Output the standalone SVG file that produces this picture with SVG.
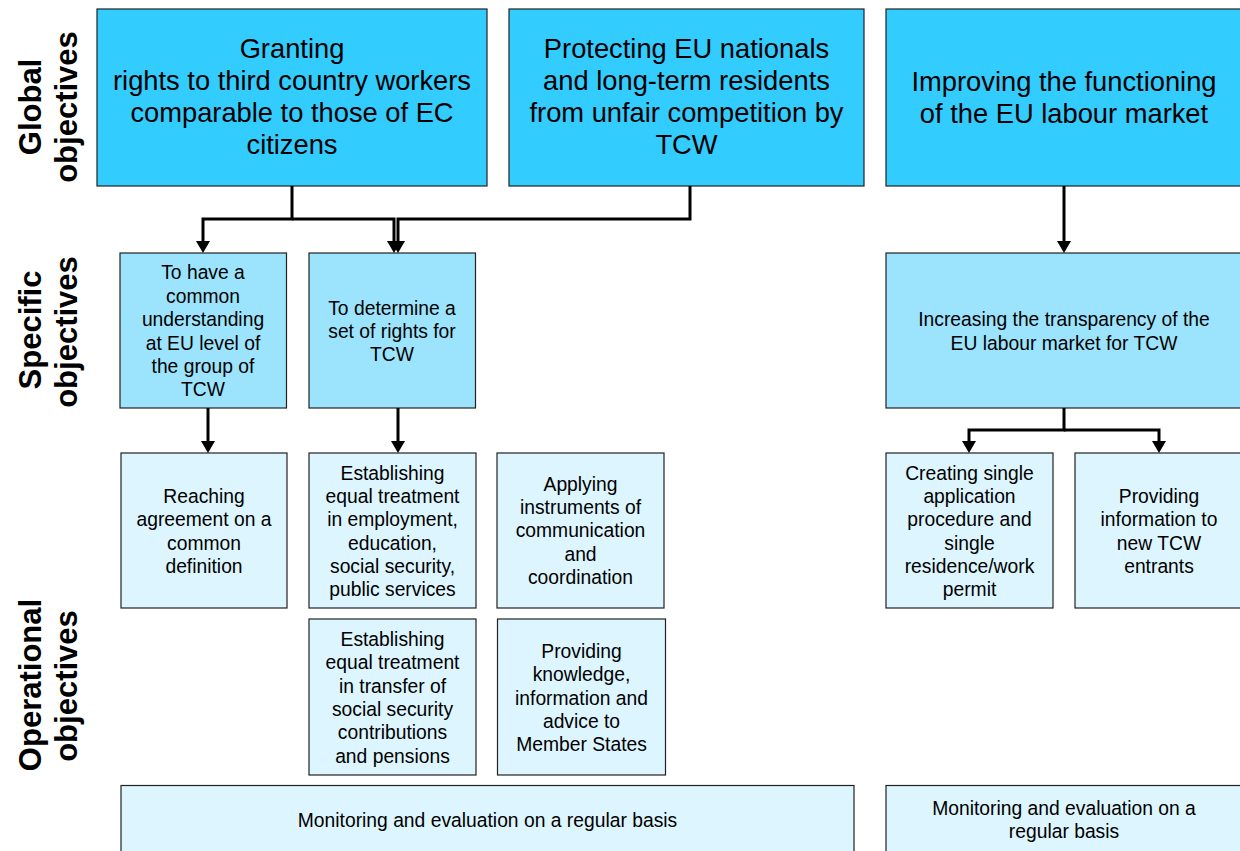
<svg xmlns="http://www.w3.org/2000/svg" width="1240" height="851" viewBox="0 0 1240 851">
<style>
  text { font-family: "Liberation Sans", Arial, sans-serif; fill: #000; text-anchor: middle; }
  .g rect { fill: #33CCFF; stroke: #222; stroke-width: 1.2; }
  .s rect { fill: #9CE4FD; stroke: #222; stroke-width: 1.2; }
  .o rect { fill: #DDF5FE; stroke: #222; stroke-width: 1.2; }
  .g text { font-size: 27.3px; }
  .s text, .o text { font-size: 19.3px; }
  .lbl { font-size: 31px; font-weight: bold; }
  .conn path { fill: none; stroke: #000; stroke-width: 3; marker-end: url(#arr); }
</style>
<defs>
  <marker id="arr" markerUnits="userSpaceOnUse" markerWidth="13" markerHeight="16" viewBox="0 -8 13 16" refX="0" refY="0" orient="auto">
    <path d="M0,-7 L12,0 L0,7 z" fill="#000"/>
  </marker>
</defs>
<rect width="1240" height="851" fill="#fff"/>

<g id="labels">
  <text class="lbl" transform="translate(41,107) rotate(-90)">Global</text>
  <text class="lbl" transform="translate(77,107) rotate(-90)">objectives</text>
  <text class="lbl" transform="translate(41,330) rotate(-90)">Specific</text>
  <text class="lbl" transform="translate(77,332) rotate(-90)">objectives</text>
  <text class="lbl" transform="translate(41,685) rotate(-90)">Operational</text>
  <text class="lbl" transform="translate(77,686) rotate(-90)">objectives</text>
</g>

<g id="g1" class="g">
  <rect x="97" y="9" width="390" height="177"/>
  <text x="292" y="58">Granting</text>
  <text x="292" y="90">rights to third country workers</text>
  <text x="292" y="122">comparable to those of EC</text>
  <text x="292" y="154">citizens</text>
</g>
<g id="g2" class="g">
  <rect x="509" y="9" width="355" height="177"/>
  <text x="686.5" y="58">Protecting EU nationals</text>
  <text x="686.5" y="90">and long-term residents</text>
  <text x="686.5" y="122">from unfair competition by</text>
  <text x="686.5" y="154">TCW</text>
</g>
<g id="g3" class="g">
  <rect x="886" y="9" width="356" height="177"/>
  <text x="1064" y="91">Improving the functioning</text>
  <text x="1064" y="123">of the EU labour market</text>
</g>

<g id="sA" class="s">
  <rect x="120" y="253" width="166.5" height="155"/>
  <text x="203" y="279">To have a</text>
  <text x="203" y="302.5">common</text>
  <text x="203" y="326">understanding</text>
  <text x="203" y="349.5">at EU level of</text>
  <text x="203" y="373">the group of</text>
  <text x="203" y="396">TCW</text>
</g>
<g id="sB" class="s">
  <rect x="309" y="253" width="166.5" height="155"/>
  <text x="392" y="314.5">To determine a</text>
  <text x="392" y="338">set of rights for</text>
  <text x="392" y="361">TCW</text>
</g>
<g id="sC" class="s">
  <rect x="886" y="253" width="356" height="155"/>
  <text x="1064" y="326">Increasing the transparency of the</text>
  <text x="1064" y="349.5">EU labour market for TCW</text>
</g>

<g id="oA" class="o">
  <rect x="121" y="453" width="166" height="155"/>
  <text x="204" y="502.5">Reaching</text>
  <text x="204" y="526">agreement on a</text>
  <text x="204" y="549.5">common</text>
  <text x="204" y="573">definition</text>
</g>
<g id="oB" class="o">
  <rect x="309" y="453" width="167" height="155"/>
  <text x="392.5" y="480">Establishing</text>
  <text x="392.5" y="503.2">equal treatment</text>
  <text x="392.5" y="526.4">in employment,</text>
  <text x="392.5" y="549.6">education,</text>
  <text x="392.5" y="572.8">social security,</text>
  <text x="392.5" y="596">public services</text>
</g>
<g id="oC" class="o">
  <rect x="497" y="453" width="167" height="155"/>
  <text x="580.5" y="491">Applying</text>
  <text x="580.5" y="514.2">instruments of</text>
  <text x="580.5" y="537.4">communication</text>
  <text x="580.5" y="560.6">and</text>
  <text x="580.5" y="583.8">coordination</text>
</g>
<g id="oD" class="o">
  <rect x="886" y="453" width="167" height="155"/>
  <text x="969.5" y="480">Creating single</text>
  <text x="969.5" y="503.2">application</text>
  <text x="969.5" y="526.4">procedure and</text>
  <text x="969.5" y="549.6">single</text>
  <text x="969.5" y="572.8">residence/work</text>
  <text x="969.5" y="596">permit</text>
</g>
<g id="oE" class="o">
  <rect x="1075" y="453" width="168" height="155"/>
  <text x="1159" y="502.5">Providing</text>
  <text x="1159" y="526">information to</text>
  <text x="1159" y="549.5">new TCW</text>
  <text x="1159" y="573">entrants</text>
</g>
<g id="oF" class="o">
  <rect x="309" y="619" width="167" height="156"/>
  <text x="392.5" y="646">Establishing</text>
  <text x="392.5" y="669.3">equal treatment</text>
  <text x="392.5" y="692.6">in transfer of</text>
  <text x="392.5" y="715.9">social security</text>
  <text x="392.5" y="739.2">contributions</text>
  <text x="392.5" y="762.5">and pensions</text>
</g>
<g id="oG" class="o">
  <rect x="497.5" y="619" width="168" height="156"/>
  <text x="581.5" y="658">Providing</text>
  <text x="581.5" y="681.3">knowledge,</text>
  <text x="581.5" y="704.6">information and</text>
  <text x="581.5" y="727.9">advice to</text>
  <text x="581.5" y="751.2">Member States</text>
</g>
<g id="oH" class="o">
  <rect x="121" y="785.5" width="733" height="80"/>
  <text x="487.5" y="827">Monitoring and evaluation on a regular basis</text>
</g>
<g id="oI" class="o">
  <rect x="886" y="785.5" width="356" height="80"/>
  <text x="1064" y="815">Monitoring and evaluation on a</text>
  <text x="1064" y="838.3">regular basis</text>
</g>

<g id="connectors" class="conn">
  <path d="M292,186 V219 H203 V241"/>
  <path d="M292,219 H394 V241"/>
  <path d="M690,186 V219 H398 V241"/>
  <path d="M1064,186 V241"/>
  <path d="M208,408 V441"/>
  <path d="M398,408 V441"/>
  <path d="M1064,408 V430 H969 V441"/>
  <path d="M1064,430 H1159 V441"/>
</g>
</svg>
